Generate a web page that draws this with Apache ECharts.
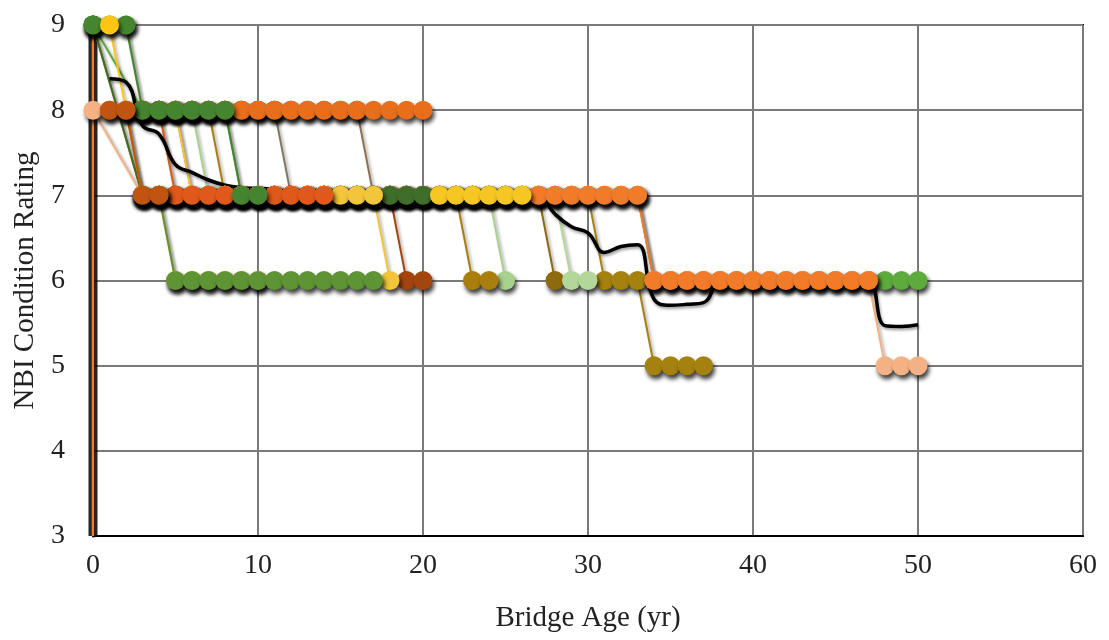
<!DOCTYPE html>
<html>
<head>
<meta charset="utf-8">
<script src="https://cdn.jsdelivr.net/npm/echarts@6/dist/echarts.min.js"></script>
<style>
html,body{margin:0;padding:0;background:#fff;}
#chart{width:1109px;height:640px;}
</style>
</head>
<body>
<div id="chart"></div>
<script>
// ---- data (bridge age in years, NBI condition rating) ----
const xTicks = [0, 10, 20, 30, 40, 50, 60];
const yTicks = [3, 4, 5, 6, 7, 8, 9];

const edgeAges = [0, 0];
const edgeRatings = [3, 9];

const ol5Start = 0;
const ol5Ratings = [9, null, null, 7,7,7,7,7,7,7,7,7,7,7,7,7,7,7,7,7,7,7,7,7,7,7,7,7,7,7,7, 6,6,6, 5,5,5,5];
const glStart = 0;
const glRatings = [9, null, null, 8,8,8,8,8,8, 7,7,7,7,7,7,7,7,7,7,7,7,7,7,7,7,7,7,7,7,7,7,7,7,7, 6,6,6,6,6,6,6,6,6,6,6,6,6,6,6,6,6];
const lg25Start = 2;
const lg25Ratings = [9, 8,8,8,8, 7,7,7,7,7,7,7,7,7,7,7,7,7,7,7,7,7,7, 6];
const ol23Start = 3;
const ol23Ratings = [8,8,8,8,8, 7,7,7,7,7,7,7,7,7,7,7,7,7,7,7, 6,6];
const ol28Start = 2;
const ol28Ratings = [8, 7,7,7,7,7,7,7,7,7,7,7,7,7,7,7,7,7,7,7,7,7,7,7,7,7, 6];
const lg29Start = 4;
const lg29Ratings = [8, 7,7,7,7,7,7,7,7,7,7,7,7,7,7,7,7,7,7,7,7,7,7,7,7, 6,6];
const br19Start = 3;
const br19Ratings = [7,7,7,7,7,7,7,7,7,7,7,7,7,7,7,7, 6,6];
const x1Start = 3;
const x1Ratings = [8,8,8,8,8,8,8,8,8, 7,7,7,7,7,7,7,7,7];
const x2Start = 3;
const x2Ratings = [8,8,8,8,8,8,8,8,8,8,8,8,8,8, 7,7,7,7];
const peachStart = 0;
const peachRatings = [8, null, null, 7,7,7,7,7,7,7,7,7,7,7,7,7,7,7,7,7,7,7,7,7,7,7,7,7,7,7,7,7,7,7, 6,6,6,6,6,6,6,6,6,6,6,6,6,6, 5,5,5];
const orangeStart = 5;
const orangeRatings = [8, 7,7,7,7,7,7,7,7,7,7,7,7,7,7,7,7,7,7,7,7,7,7,7,7,7,7,7,7, 6,6,6,6,6,6,6,6,6,6,6,6,6,6];
const or8Start = 1;
const or8Ratings = [8,8,8,8,8,8,8,8,8,8,8,8,8,8,8,8,8,8,8,8];
const dgStart = 0;
const dgRatings = [9, null, null, 7,7,7,7,7,7,7,7,7,7,7,7,7,7,7,7,7,7,7,7,7,7,7];
const y15Start = 5;
const y15Ratings = [8, 7,7,7,7,7,7,7,7,7,7,7,7, 6];
const roStart = 3;
const roRatings = [8,8, 7,7,7,7,7,7,7,7,7,7];
const g9Start = 0;
const g9Ratings = [9,9,9, 8,8,8,8,8,8, 7,7];
const y9Start = 1;
const y9Ratings = [9, 8, 7,7, 6,6,6,6,6,6];
const g6Start = 3;
const g6Ratings = [7,7, 6,6,6,6,6,6,6,6,6,6,6,6,6];
const b4Start = 1;
const b4Ratings = [8,8, 7,7];
const y2Start = 21;
const y2Ratings = [7,7,7,7,7,7];

const avgStart = 1;
const avgRatings = [8.37, 8.33, 7.82, 7.72, 7.36, 7.27, 7.18, 7.12, 7.09, 7.08,
  7.07, 7.04, 7.04, 7.05, 7.04, 7.02, 6.99, 6.92, 6.87, 6.88,
  6.99, 6.94, 6.87, 6.87, 6.93, 7.02, 7.0, 6.78, 6.63, 6.56,
  6.33, 6.40, 6.42, 5.78, 5.71, 5.72, 5.74, 6.0, 6.02, 6.0,
  6.0, 5.99, 6.0, 6.0, 6.0, 6.0, 6.0, 5.47, 5.46, 5.48];

// ---- build ----
function pairs(start, ratings){ return ratings.map((r,i)=>[start+i, r]); }

const stepSeries = [
  ['ol5', ol5Start, ol5Ratings, '#A5820F'],
  ['gl', glStart, glRatings, '#5CAB3C'],
  ['lg25', lg25Start, lg25Ratings, '#A9D18E'],
  ['ol23', ol23Start, ol23Ratings, '#A97E0C'],
  ['ol28', ol28Start, ol28Ratings, '#8D6A0D'],
  ['lg29', lg29Start, lg29Ratings, '#B2D799'],
  ['br19', br19Start, br19Ratings, '#A3450E'],
  ['x1', x1Start, x1Ratings, '#7F7A5E'],
  ['x2', x2Start, x2Ratings, '#8F6F4F'],
  ['peach', peachStart, peachRatings, '#F4B183'],
  ['orange', orangeStart, orangeRatings, '#F27B2A'],
  ['or8', or8Start, or8Ratings, '#E86E1C'],
  ['dg', dgStart, dgRatings, '#3F6E2A'],
  ['y15', y15Start, y15Ratings, '#F3C53A'],
  ['ro', roStart, roRatings, '#E0581A'],
  ['g9', g9Start, g9Ratings, '#468530'],
  ['y9', y9Start, y9Ratings, '#FFC515'],
  ['g6', g6Start, g6Ratings, '#5E9434'],
  ['b4', b4Start, b4Ratings, '#C05410'],
  ['y2', y2Start, y2Ratings, '#F6C623']
];

const edgeData = edgeAges.map((a,i)=>[a, edgeRatings[i]]);
const series = [];
// dark shadow of the orange line that runs up the age-0 edge
series.push({
  name: 'edgeShadow', type: 'line', data: edgeData,
  showSymbol: false, symbol: 'none',
  lineStyle: {color: 'rgba(0,0,0,0.85)', width: 9, cap: 'butt'},
  silent: true
});
stepSeries.forEach(([name, start, ratings, color]) => {
  series.push({
    name, type: 'line', data: pairs(start, ratings), connectNulls: true,
    symbol: 'circle', symbolSize: 19, showAllSymbol: true,
    itemStyle: {color, shadowColor: 'rgba(0,0,0,0.75)', shadowBlur: 4, shadowOffsetX: 2, shadowOffsetY: 4},
    lineStyle: {color, width: 2, shadowColor: 'rgba(0,0,0,0.35)', shadowBlur: 3, shadowOffsetX: 2, shadowOffsetY: 2},
    silent: true
  });
});
series.push({
  name: 'edge', type: 'line', data: edgeData,
  showSymbol: false, symbol: 'none',
  lineStyle: {color: '#ED7D31', width: 2.5, cap: 'butt'},
  silent: true
});
series.push({
  name: 'average', type: 'line', data: pairs(avgStart, avgRatings),
  smooth: 0.45, showSymbol: false, symbol: 'none',
  lineStyle: {color: '#000', width: 3.5, shadowColor: 'rgba(0,0,0,0.4)', shadowBlur: 3, shadowOffsetX: 1, shadowOffsetY: 2},
  silent: true
});

const font = 'Liberation Serif, Times New Roman, serif';
const chart = echarts.init(document.getElementById('chart'), null, {renderer: 'canvas'});
chart.setOption({
  animation: false,
  backgroundColor: '#fff',
  grid: {left: 93, right: 26, top: 25, bottom: 104, show: true, borderColor: '#000', borderWidth: 2, backgroundColor: 'transparent'},
  xAxis: {
    type: 'value', min: xTicks[0], max: xTicks[xTicks.length-1], interval: 10,
    name: 'Bridge Age (yr)', nameLocation: 'middle', nameGap: 68,
    nameTextStyle: {fontFamily: font, fontSize: 29, color: '#222'},
    axisLine: {lineStyle: {color: '#000', width: 2}},
    axisTick: {show: false},
    axisLabel: {fontFamily: font, fontSize: 28, color: '#222', margin: 16},
    splitLine: {lineStyle: {color: '#7a7a7a', width: 2}}
  },
  yAxis: {
    type: 'value', min: yTicks[0], max: yTicks[yTicks.length-1], interval: 1,
    name: 'NBI Condition Rating', nameLocation: 'middle', nameGap: 52,
    nameTextStyle: {fontFamily: font, fontSize: 29, color: '#222'},
    axisLine: {show: true, lineStyle: {color: '#000', width: 3}},
    axisTick: {show: false},
    axisLabel: {fontFamily: font, fontSize: 28, color: '#222', margin: 28},
    splitLine: {lineStyle: {color: '#7a7a7a', width: 2}}
  },
  series
});
</script>
</body>
</html>
